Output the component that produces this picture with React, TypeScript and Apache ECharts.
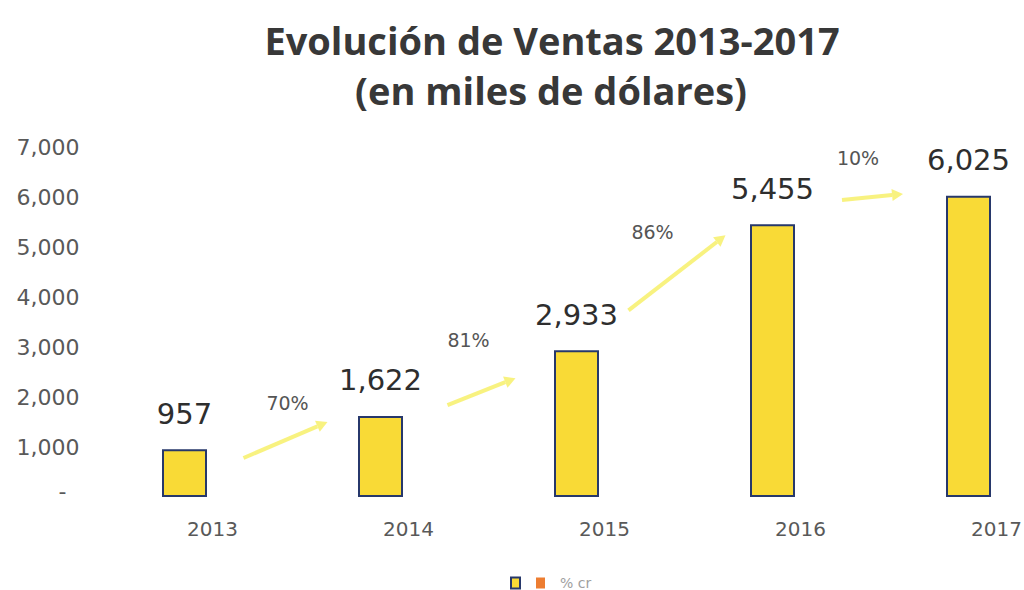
import React, { useEffect, useRef } from "react";
import * as echarts from "echarts";

const CATEGORIES = ["2013", "2014", "2015", "2016", "2017"];
const SALES = [957, 1622, 2933, 5455, 6025];
const GROWTH = [70, 81, 86, 10];
const Y_MIN = 0;
const Y_MAX = 7000;
const Y_INTERVAL = 1000;

// arrow annotation layout, offsets relative to the midpoint between two bar tops
const ARROW_LAYOUT = [
  [-39, 25.5, 45, -10.5, 5, -29.5],
  [-31, 22, 37, -5, -10, -43],
  [-46, 23, 51, -52, -22, -55],
  [-28.5, -10, 32.5, -16, -12.5, -52],
];

const ARROW_COLOR = "#f7f06a";
const NUM_FONT = "DejaVu Sans";

export default function App() {
  const ref = useRef<HTMLDivElement>(null);

  useEffect(() => {
    if (!ref.current) return;
    const chart = echarts.init(ref.current, null, { renderer: "svg" });
    chart.setOption({
      animation: false,
      backgroundColor: "#ffffff",
      graphic: [
        {
          type: "text",
          x: 552,
          y: 40,
          style: {
            text: "Evolución de Ventas 2013-2017",
            align: "center",
            verticalAlign: "middle",
            fontFamily: "Open Sans",
            fontWeight: "bold",
            fontSize: 38,
            fill: "#383838",
          },
        },
        {
          type: "text",
          x: 551,
          y: 90,
          style: {
            text: "(en miles de dólares)",
            align: "center",
            verticalAlign: "middle",
            fontFamily: "Open Sans",
            fontWeight: "bold",
            fontSize: 38,
            fill: "#383838",
          },
        },
      ],
      legend: {
        left: 505,
        top: 571,
        icon: "rect",
        itemWidth: 9,
        itemHeight: 11,
        itemGap: 15,
        data: [
          { name: "Ventas", icon: "rect" },
          { name: "% cr", icon: "rect" },
        ],
        formatter: (name: string) => (name === "Ventas" ? "" : name),
        textStyle: {
          color: "#a0a0a0",
          fontSize: 14,
          fontFamily: NUM_FONT,
          padding: [0, 0, 0, 10],
        },
      },
      grid: {
        left: 86.5,
        right: -42.5,
        top: 147,
        bottom: 93,
        containLabel: false,
        outerBoundsMode: "none",
      },
      xAxis: {
        type: "category",
        data: CATEGORIES,
        axisLine: { show: false },
        axisTick: { show: false },
        axisLabel: {
          color: "#595959",
          fontSize: 20,
          fontFamily: NUM_FONT,
          margin: 22,
          padding: [0, 0, 0, 56],
        },
      },
      yAxis: {
        type: "value",
        min: Y_MIN,
        max: Y_MAX,
        interval: Y_INTERVAL,
        splitLine: { show: false },
        axisLine: { show: false },
        axisTick: { show: false },
        axisLabel: {
          color: "#595959",
          fontSize: 22,
          fontFamily: NUM_FONT,
          margin: 7,
          formatter: (v: number) =>
            v === 0 ? "{z|-}" : v.toLocaleString("en-US"),
          rich: {
            z: {
              color: "#595959",
              fontSize: 22,
              fontFamily: NUM_FONT,
              padding: [0, 13, 12, 0],
            },
          },
        },
      },
      series: [
        {
          name: "Ventas",
          type: "bar",
          data: SALES,
          barWidth: 45,
          itemStyle: {
            color: "#f9da36",
            borderColor: "#27386b",
            borderWidth: 2,
          },
          label: {
            show: true,
            position: "top",
            distance: 21,
            color: "#2e2e2e",
            fontSize: 29,
            fontFamily: NUM_FONT,
            formatter: (p: any) => Number(p.value).toLocaleString("en-US"),
          },
        },
        {
          name: "% cr",
          type: "custom",
          clip: false,
          itemStyle: { color: "#ed7d31" },
          data: GROWTH.map((g, i) => [i, g]),
          encode: { x: 0, y: 1 },
          renderItem: (params: any, api: any) => {
            const i = params.dataIndex;
            const a = api.coord([i, SALES[i]]);
            const b = api.coord([i + 1, SALES[i + 1]]);
            const mx = (a[0] + b[0]) / 2;
            const my = (a[1] + b[1]) / 2;
            const [dx1, dy1, dx2, dy2, lx, ly] = ARROW_LAYOUT[i];
            const x1 = mx + dx1;
            const y1 = my + dy1;
            const x2 = mx + dx2;
            const y2 = my + dy2;
            const ang = Math.atan2(y2 - y1, x2 - x1);
            const hl = 11;
            const hw = 6;
            const bx = x2 - hl * Math.cos(ang);
            const by = y2 - hl * Math.sin(ang);
            const px = -Math.sin(ang) * hw;
            const py = Math.cos(ang) * hw;
            return {
              type: "group",
              children: [
                {
                  type: "line",
                  shape: { x1, y1, x2: bx, y2: by },
                  style: { stroke: ARROW_COLOR, lineWidth: 4, opacity: 0.85 },
                },
                {
                  type: "polygon",
                  shape: {
                    points: [
                      [x2, y2],
                      [bx + px, by + py],
                      [bx - px, by - py],
                    ],
                  },
                  style: { fill: ARROW_COLOR, opacity: 0.85 },
                },
                {
                  type: "text",
                  x: mx + lx,
                  y: my + ly,
                  style: {
                    text: api.value(1) + "%",
                    align: "center",
                    verticalAlign: "middle",
                    fill: "#555555",
                    fontSize: 19,
                    fontFamily: NUM_FONT,
                  },
                },
              ],
            };
          },
        },
      ],
    });
    return () => chart.dispose();
  }, []);

  return (
    <div
      ref={ref}
      style={{ position: "fixed", left: 0, top: 0, width: 1024, height: 590 }}
    />
  );
}
